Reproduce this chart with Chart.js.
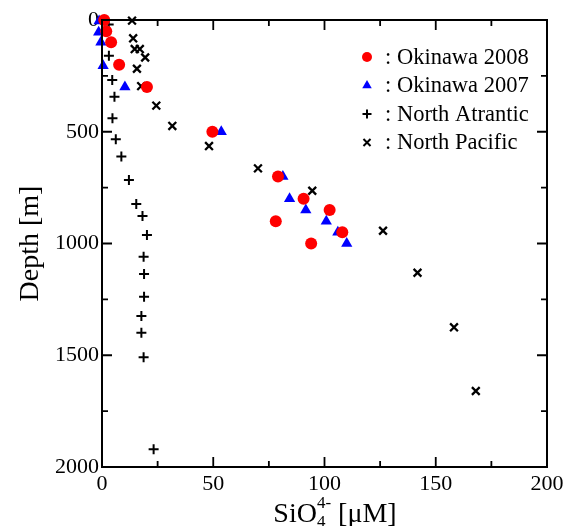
<!DOCTYPE html>
<html>
<head>
<meta charset="utf-8">
<script src="https://cdn.jsdelivr.net/npm/chart.js@4/dist/chart.umd.min.js"></script>
<style>
html,body{margin:0;padding:0;background:#fff;}
#wrap{width:573px;height:526px;position:relative;}
</style>
</head>
<body>
<div id="wrap"><canvas id="c" width="573" height="526"></canvas></div>
<script>
// ---- data (SiO4 [uM], depth [m]) ----
const okinawa2008Si    = [1.0, 1.9, 4.1, 7.7, 20.2, 49.6, 79.1, 90.6, 102.3, 78.1, 108.0, 94.0];
const okinawa2008Depth = [0, 50, 100, 200, 300, 500, 700, 800, 850, 900, 950, 1000];

const okinawa2007Si    = [-1.3, -1.5, -0.5, 0.5, 10.3, 53.6, 81.3, 84.3, 91.6, 100.8, 106.0, 110.0];
const okinawa2007Depth = [5, 55, 100, 205, 300, 500, 700, 800, 850, 900, 950, 1000];

const atlanticSi    = [3.0, 3.1, 4.6, 5.6, 4.7, 6.2, 8.7, 12.1, 15.4, 18.2, 20.2, 18.7, 18.9, 18.9, 17.7, 17.7, 18.7, 23.2];
const atlanticDepth = [20, 160, 268, 343, 440, 534, 611, 716, 823, 877, 962, 1059, 1136, 1238, 1324, 1399, 1509, 1921];

const pacificSi    = [13.5, 14.0, 14.7, 17.0, 19.4, 15.7, 17.6, 24.4, 31.6, 48.1, 70.1, 94.5, 126.3, 141.8, 158.2, 168.0];
const pacificDepth = [3, 82, 130, 130, 168, 218, 296, 383, 474, 564, 664, 764, 943, 1131, 1375, 1660];

const seriesNames = [': Okinawa 2008', ': Okinawa 2007', ': North Atrantic', ': North Pacific'];
const xTicks = [0, 50, 100, 150, 200];
const yTicks = [0, 500, 1000, 1500, 2000];

const toPts = (xs, ys) => xs.map((x, i) => ({x: x, y: ys[i]}));

const FONT = "'Liberation Serif', 'Times New Roman', serif";

const styles = [
  {pointStyle: 'circle',   radius: 6,   backgroundColor: '#ff0000', borderColor: '#ff0000', borderWidth: 0},
  {pointStyle: 'triangle', radius: 6.5, backgroundColor: '#0000ff', borderColor: '#0000ff', borderWidth: 0},
  {pointStyle: 'cross',    radius: 5,   backgroundColor: '#000',    borderColor: '#000',    borderWidth: 2},
  {pointStyle: 'crossRot', radius: 5.5, backgroundColor: '#000',    borderColor: '#000',    borderWidth: 2.3}
];
const legendStyles = [
  {pointStyle: 'circle',   radius: 5,   borderWidth: 0},
  {pointStyle: 'triangle', radius: 5.5, borderWidth: 0},
  {pointStyle: 'cross',    radius: 4.5, borderWidth: 2},
  {pointStyle: 'crossRot', radius: 5,   borderWidth: 2}
];

const dataSets = [
  toPts(okinawa2008Si, okinawa2008Depth),
  toPts(okinawa2007Si, okinawa2007Depth),
  toPts(atlanticSi, atlanticDepth),
  toPts(pacificSi, pacificDepth)
];

const datasets = dataSets.map((d, i) => ({
  label: seriesNames[i],
  data: d,
  pointStyle: styles[i].pointStyle,
  pointRadius: styles[i].radius,
  pointHoverRadius: styles[i].radius,
  pointBackgroundColor: styles[i].backgroundColor,
  pointBorderColor: styles[i].borderColor,
  pointBorderWidth: styles[i].borderWidth,
  showLine: false,
  clip: false
}));

const framePlugin = {
  id: 'frame',
  afterDraw(chart) {
    const ctx = chart.ctx;
    const a = chart.chartArea;
    const xs = chart.scales.x, ys = chart.scales.y;
    ctx.save();
    ctx.strokeStyle = '#000';
    ctx.lineWidth = 2;
    ctx.strokeRect(a.left, a.top, a.right - a.left, a.bottom - a.top);
    // inward ticks
    ctx.lineWidth = 1.8;
    ctx.beginPath();
    for (let v = 0; v <= 200; v += 25) {
      const px = xs.getPixelForValue(v);
      const len = (v % 50 === 0) ? 10 : 6;
      ctx.moveTo(px, a.bottom); ctx.lineTo(px, a.bottom - len);
      ctx.moveTo(px, a.top); ctx.lineTo(px, a.top + len);
    }
    for (let v = 0; v <= 2000; v += 250) {
      const py = ys.getPixelForValue(v);
      const len = (v % 500 === 0) ? 10 : 6;
      ctx.moveTo(a.left, py); ctx.lineTo(a.left + len, py);
      ctx.moveTo(a.right, py); ctx.lineTo(a.right - len, py);
    }
    ctx.stroke();

    // axis titles
    ctx.fillStyle = '#000';
    ctx.textBaseline = 'alphabetic';
    // y title
    ctx.save();
    ctx.translate(38, (a.top + a.bottom) / 2);
    ctx.rotate(-Math.PI / 2);
    ctx.font = '28px ' + FONT;
    ctx.textAlign = 'center';
    ctx.fillText('Depth [m]', 0, 0);
    ctx.restore();
    // x title: SiO4^4- [uM]
    ctx.textAlign = 'left';
    const big = '28px ' + FONT, small = '17px ' + FONT;
    ctx.font = big;
    const w0 = ctx.measureText('SiO').width;
    const w3 = ctx.measureText(' [\u03bcM]').width;
    ctx.font = small;
    const w1 = ctx.measureText('4').width;
    const w2 = ctx.measureText('4-').width;
    const total = w0 + Math.max(w1, w2) + w3;
    let x = 335 - total / 2;
    const base = 522;
    ctx.font = big; ctx.fillText('SiO', x, base); x += w0;
    ctx.font = small; ctx.fillText('4', x, base + 5);
    ctx.fillText('4-', x, base - 14); x += Math.max(w1, w2);
    ctx.font = big; ctx.fillText(' [\u03bcM]', x, base);

    // legend
    const lx = 367, ltx = 385, ly0 = 57, ldy = 28.5;
    ctx.font = '22.5px ' + FONT;
    ctx.textBaseline = 'middle';
    seriesNames.forEach((name, i) => {
      const y = ly0 + i * ldy;
      ctx.fillStyle = styles[i].backgroundColor;
      ctx.strokeStyle = styles[i].borderColor;
      ctx.lineWidth = legendStyles[i].borderWidth;
      Chart.helpers.drawPoint(ctx, {
        pointStyle: legendStyles[i].pointStyle,
        radius: legendStyles[i].radius,
        rotation: 0,
        borderWidth: legendStyles[i].borderWidth
      }, lx, y);
      ctx.fillStyle = '#000';
      ctx.fillText(name, ltx, y + 1);
    });
    ctx.restore();
  }
};

new Chart(document.getElementById('c'), {
  type: 'scatter',
  data: {datasets: datasets},
  options: {
    responsive: false,
    animation: false,
    devicePixelRatio: 1,
    layout: {padding: {top: 20, right: 26, left: 0, bottom: 0}},
    plugins: {legend: {display: false}, tooltip: {enabled: false}},
    scales: {
      x: {
        type: 'linear', min: 0, max: 200,
        afterBuildTicks: s => { s.ticks = xTicks.map(v => ({value: v})); },
        afterFit: s => { s.height = 59; s.paddingLeft = 0; s.paddingRight = 0; },
        grid: {display: false, drawTicks: false},
        border: {display: false},
        ticks: {color: '#000', font: {family: FONT, size: 22}, padding: 4, maxRotation: 0,
                callback: v => String(v)}
      },
      y: {
        type: 'linear', min: 0, max: 2000, reverse: true,
        afterBuildTicks: s => { s.ticks = yTicks.map(v => ({value: v})); },
        afterFit: s => { s.width = 102; s.paddingTop = 0; s.paddingBottom = 0; },
        grid: {display: false, drawTicks: false},
        border: {display: false},
        ticks: {color: '#000', font: {family: FONT, size: 22}, padding: 3,
                callback: v => String(v)}
      }
    }
  },
  plugins: [framePlugin]
});
</script>
</body>
</html>
